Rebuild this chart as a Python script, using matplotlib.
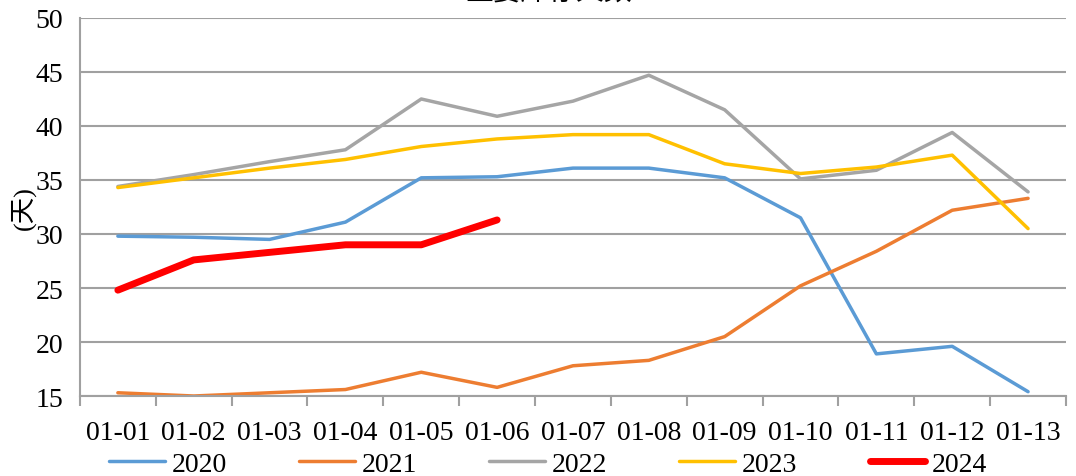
import matplotlib
matplotlib.use("Agg")
import matplotlib.pyplot as plt

plt.rcParams['font.family'] = ['Liberation Serif', 'Noto Sans CJK SC']

# category labels
labels = ['01-01', '01-02', '01-03', '01-04', '01-05', '01-06', '01-07',
          '01-08', '01-09', '01-10', '01-11', '01-12', '01-13']

# values (days)
y2020 = [29.8, 29.7, 29.5, 31.1, 35.2, 35.3, 36.1, 36.1, 35.2, 31.5, 18.9, 19.6, 15.4]
y2021 = [15.3, 15.0, 15.3, 15.6, 17.2, 15.8, 17.8, 18.3, 20.5, 25.2, 28.4, 32.2, 33.3]
y2022 = [34.4, 35.5, 36.7, 37.8, 42.5, 40.9, 42.3, 44.7, 41.5, 35.1, 35.9, 39.4, 33.9]
y2023 = [34.3, 35.2, 36.1, 36.9, 38.1, 38.8, 39.2, 39.2, 36.5, 35.6, 36.2, 37.3, 30.5]
y2024 = [24.8, 27.6, 28.3, 29.0, 29.0, 31.3]

series = [
    ('2020', y2020, '#5B9BD5', 2.5),
    ('2021', y2021, '#ED7D31', 2.5),
    ('2022', y2022, '#A5A5A5', 2.5),
    ('2023', y2023, '#FFC000', 2.5),
    ('2024', y2024, '#FF0000', 5),
]

fig = plt.figure(figsize=(10.76, 4.77), dpi=100)
ax = fig.add_axes([0.0743, 0.1677, 0.9164, 0.7925])

for name, vals, color, lw in series:
    ax.plot(range(len(vals)), vals, color=color, linewidth=lw, label=name,
            solid_capstyle='round', solid_joinstyle='round')

ax.set_xlim(-0.5, len(labels) - 0.5)
ax.set_ylim(15, 50)
ax.set_yticks(range(15, 51, 5))
ax.yaxis.grid(True, color='#A0A0A0', linewidth=1.5)
ax.set_axisbelow(True)

ax.set_xticks(range(len(labels)))
ax.set_xticklabels(labels)
ax.set_xticks([i - 0.5 for i in range(len(labels) + 1)], minor=True)
ax.tick_params(axis='x', which='major', length=0, pad=17, labelsize=20)
ax.tick_params(axis='x', which='minor', length=7, color='#A0A0A0', width=1.5)
ax.tick_params(axis='y', length=0, pad=12, labelsize=20)

for side in ['top', 'right']:
    ax.spines[side].set_visible(False)
for side in ['left', 'bottom']:
    ax.spines[side].set_color('#A0A0A0')
    ax.spines[side].set_linewidth(1.5)

ax.set_ylabel('(天)', fontsize=19, labelpad=0)

ax.legend(loc='center', bbox_to_anchor=(0.475, -0.18), ncol=5, frameon=False,
          fontsize=20, handlelength=2.0, columnspacing=2.6, handletextpad=0.25)

fig.text(0.51, 0.987, '主要库存天数', ha='center', va='bottom', fontsize=20)

fig.savefig('out.png', dpi=100)
